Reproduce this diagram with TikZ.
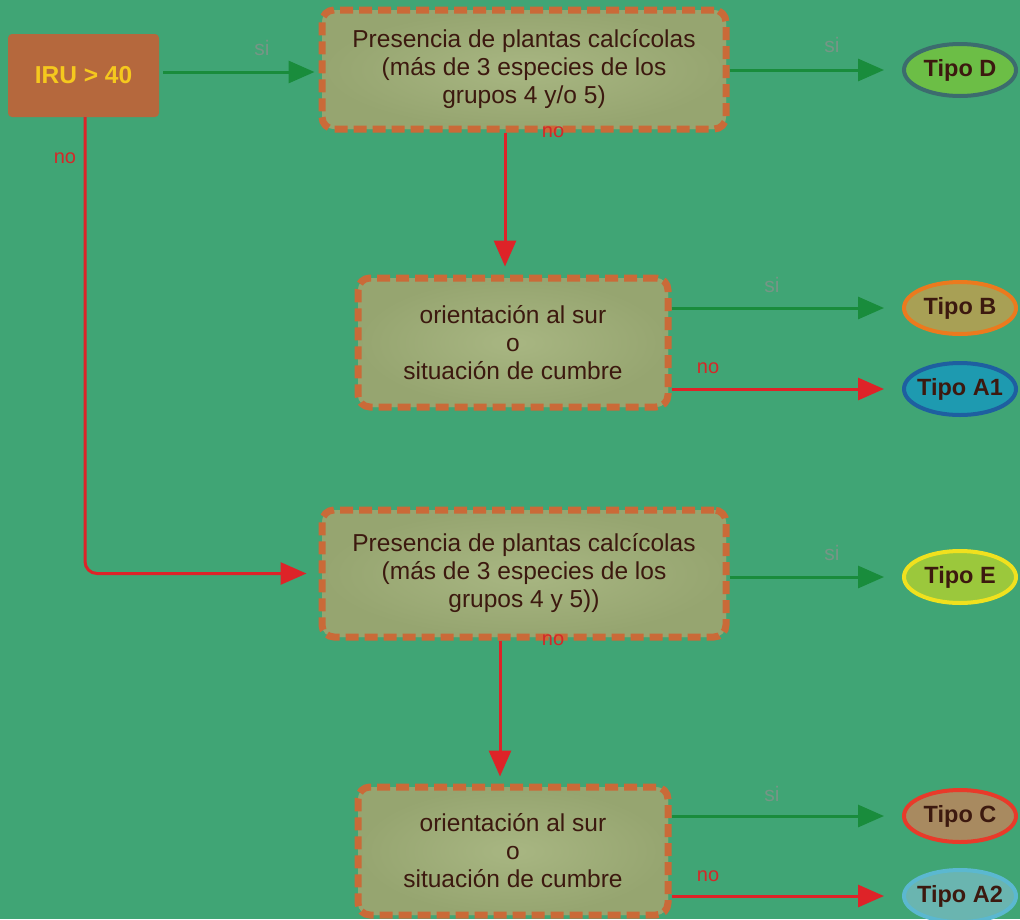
\documentclass[tikz,border=0pt]{standalone}
\usepackage{fontspec}
\setmainfont{Liberation Sans}
\usetikzlibrary{arrows.meta,shapes.geometric,calc}
\definecolor{bg}{RGB}{64,165,117}
\definecolor{irufill}{RGB}{181,104,61}
\definecolor{irutext}{RGB}{245,200,30}
\definecolor{boxfill}{RGB}{150,165,112}
\definecolor{boxfillc}{RGB}{168,182,130}
\definecolor{boxline}{RGB}{202,106,56}
\definecolor{darktext}{RGB}{60,25,15}
\definecolor{garrow}{RGB}{25,140,60}
\definecolor{rarrow}{RGB}{222,35,40}
\definecolor{silabel}{RGB}{118,150,134}
\definecolor{nolabel}{RGB}{212,40,40}
\definecolor{dfill}{RGB}{108,190,70}\definecolor{dline}{RGB}{60,108,110}
\definecolor{bfill}{RGB}{168,160,85}\definecolor{bline}{RGB}{235,122,30}
\definecolor{a1fill}{RGB}{30,154,176}\definecolor{a1line}{RGB}{30,95,160}
\definecolor{efill}{RGB}{155,200,60}\definecolor{eline}{RGB}{240,225,30}
\definecolor{cfill}{RGB}{168,138,96}\definecolor{cline}{RGB}{232,58,42}
\definecolor{a2fill}{RGB}{106,181,176}\definecolor{a2line}{RGB}{91,184,208}
\tikzset{
  qbox/.style={draw=boxline, line width=7pt, dash pattern=on 13pt off 6pt,
    rounded corners=12pt, fill=boxfill, inner color=boxfillc, outer color=boxfill,
    align=center, text=darktext, inner sep=0pt,
    font=\fontsize{24.5}{28}\selectfont},
  tipo/.style={ellipse, line width=4pt, minimum width=112pt, minimum height=52pt,
    inner sep=0pt},
  tipotext/.style={text=darktext, font=\fontsize{23.5}{26}\selectfont\bfseries, inner sep=0pt},
  garr/.style={draw=garrow, line width=3pt, -{Triangle[length=26pt,width=22pt]}},
  rarr/.style={draw=rarrow, line width=3pt, -{Triangle[length=26pt,width=22pt]}},
  silab/.style={text=silabel, font=\fontsize{21}{22}\selectfont, inner sep=0pt},
  nolab/.style={text=nolabel, font=\fontsize{20}{22}\selectfont, inner sep=0pt},
}
\begin{document}
\begin{tikzpicture}[x=1pt,y=-1pt]
\fill[bg] (0,0) rectangle (1020,919);
\useasboundingbox (0,0) rectangle (1020,919);

\node[fill=irufill, rounded corners=4pt, minimum width=151pt, minimum height=83pt,
  text=irutext, font=\fontsize{24.5}{26}\selectfont\bfseries, inner sep=0pt]
  (iru) at (83.5,75.5) {IRU > 40};

\node[qbox, minimum width=404pt, minimum height=119pt] (box1) at (524,69.5)
  {Presencia de plantas calcícolas\\(más de 3 especies de los\\grupos 4 y/o 5)};
\node[qbox, minimum width=310pt, minimum height=129pt] (box2) at (513,342.5)
  {orientación al sur\\o\\situación de cumbre};
\node[qbox, minimum width=404pt, minimum height=127pt] (box3) at (524,573.5)
  {Presencia de plantas calcícolas\\(más de 3 especies de los\\grupos 4 y 5))};
\node[qbox, minimum width=310pt, minimum height=128pt] (box4) at (513,851)
  {orientación al sur\\o\\situación de cumbre};

\node[tipo, fill=dfill, draw=dline, label={[tipotext]center:Tipo D}] (tD) at (960,70) {};
\node[tipo, fill=bfill, draw=bline, label={[tipotext]center:Tipo B}] (tB) at (960,308) {};
\node[tipo, fill=a1fill, draw=a1line, label={[tipotext]center:Tipo A1}] (tA1) at (960,389) {};
\node[tipo, fill=efill, draw=eline, label={[tipotext]center:Tipo E}] (tE) at (960,577) {};
\node[tipo, fill=cfill, draw=cline, label={[tipotext]center:Tipo C}] (tC) at (960,816) {};
\node[tipo, fill=a2fill, draw=a2line, label={[tipotext]center:Tipo A2}] (tA2) at (960,896) {};

\coordinate (x1) at (505,0);
\coordinate (x2) at (500,0);
\coordinate (xl) at (85,0);

% arrows
\draw[garr, shorten <=4pt, shorten >=4pt] (iru.east |- 0,72) -- (box1.west |- 0,72);
\draw[garr, shorten >=18pt] (box1.east |- tD) -- (tD);
\draw[rarr, shorten >=8pt] (box1.south -| x1) -- (box2.north -| x1);
\draw[garr, shorten >=18pt] (box2.east |- tB) -- (tB);
\draw[rarr, shorten >=18pt] (box2.east |- tA1) -- (tA1);
\draw[rarr, rounded corners=12pt, shorten >=12pt] (iru.south -| xl) -- (xl |- box3.west) -- (box3.west);
\draw[garr, shorten >=18pt] (box3.east |- tE) -- (tE);
\draw[rarr, shorten >=7pt] (box3.south -| x2) -- (box4.north -| x2);
\draw[garr, shorten >=18pt] (box4.east |- tC) -- (tC);
\draw[rarr, shorten >=18pt] (box4.east |- tA2) -- (tA2);

% labels
\node[silab] (s1) at (262,48) {si};
\node[silab] (s2) at (832,45) {si};
\node[nolab] (n1) at (553,132) {no};
\node[nolab] (n0) at (65,158) {no};
\node[silab] (s3) at (772,285) {si};
\node[nolab] (n2) at (708,368) {no};
\node[silab] (s4) at (832,553) {si};
\node[nolab] (n3) at (553,640) {no};
\node[silab] (s5) at (772,794) {si};
\node[nolab] (n4) at (708,876) {no};
\end{tikzpicture}
\end{document}
